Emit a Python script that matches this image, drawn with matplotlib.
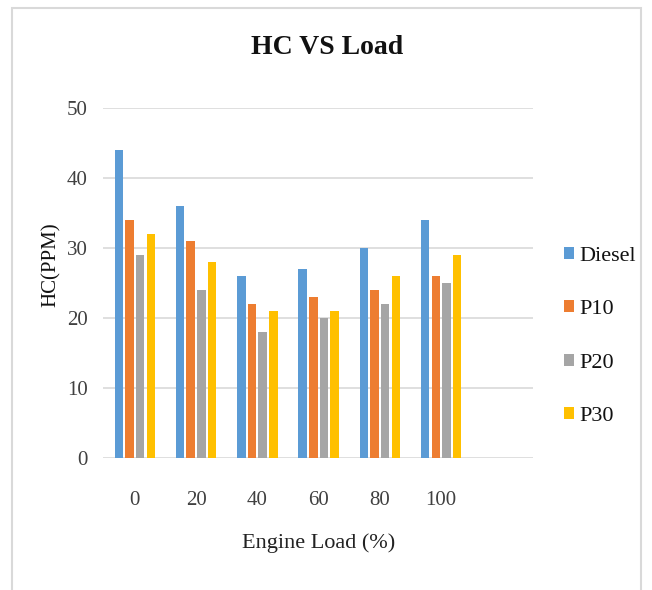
import matplotlib
matplotlib.use("Agg")
import matplotlib.pyplot as plt
import numpy as np
from matplotlib.patches import Rectangle

# data
loads = ["0", "20", "40", "60", "80", "100"]
diesel = [44, 36, 26, 27, 30, 34]
p10 = [34, 31, 22, 23, 24, 26]
p20 = [29, 24, 18, 20, 22, 25]
p30 = [32, 28, 21, 21, 26, 29]
series_names = ["Diesel", "P10", "P20", "P30"]
colors = ["#5B9BD5", "#ED7D31", "#A5A5A5", "#FFC000"]

plt.rcParams['font.family'] = ['Liberation Serif', 'DejaVu Serif']

W, H = 652, 590
fig = plt.figure(figsize=(W / 100, H / 100), dpi=100)
fig.patch.set_facecolor("white")

# light frame around the chart (like the Excel chart border)
fig.patches.append(Rectangle((12 / W, -0.05), 629 / W, 1.05 - 8 / H,
                             transform=fig.transFigure, fill=False,
                             edgecolor="#D9D9D9", linewidth=1.5))

# axes placed by pixel position
ax = fig.add_axes([103 / W, (H - 458) / H, 430 / W, 350 / H])

x = np.arange(len(loads))
pitch = 0.175
width = 0.139
allvals = [diesel, p10, p20, p30]
for i, (vals, name, c) in enumerate(zip(allvals, series_names, colors)):
    ax.bar(x + (i - 1.5) * pitch, vals, width=width, color=c, label=name, zorder=3)

ax.set_ylim(0, 50)
ax.set_xlim(-0.52, 6.5)
ax.set_yticks([0, 10, 20, 30, 40, 50])
ax.yaxis.grid(True, color="#D9D9D9", linewidth=1.2, zorder=0)
ax.set_axisbelow(True)
for s in ax.spines.values():
    s.set_visible(False)
ax.tick_params(length=0, labelsize=15, colors="#404040")
ax.tick_params(axis="y", pad=11)
ax.tick_params(axis="x", pad=24)
ax.set_xticks(x)
ax.set_xticklabels(loads)

fig.text(327 / W, 1 - 47 / H, "HC VS Load", ha="center", va="center",
         fontsize=20, fontweight="bold", color="#111111")
fig.text(51 / W, 1 - 265 / H, "HC(PPM)", ha="center", va="center",
         rotation=90, fontsize=15, color="#111111")
fig.text(319 / W, 1 - 543 / H, "Engine Load (%)", ha="center", va="center",
         fontsize=16, color="#222222")

leg = ax.legend(loc="upper left", bbox_to_anchor=(555 / W, 1 - 238 / H),
                bbox_transform=fig.transFigure, frameon=False, fontsize=16,
                handlelength=0.45, handleheight=0.45, handletextpad=0.25,
                labelspacing=1.55, borderaxespad=0)
for t in leg.get_texts():
    t.set_color("#111111")

fig.savefig("out.png", dpi=100)
